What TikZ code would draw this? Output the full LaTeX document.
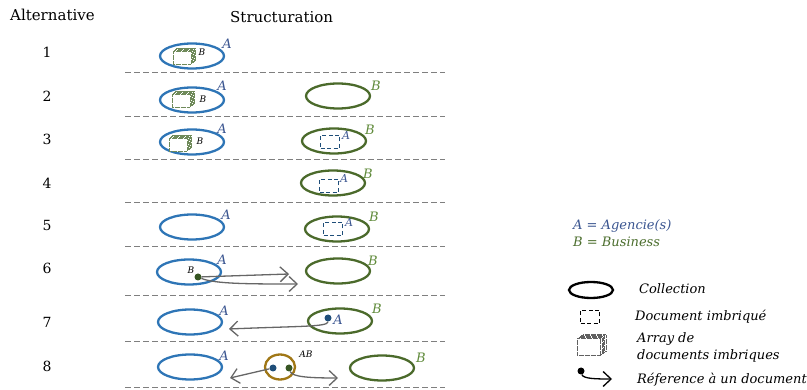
\documentclass[tikz,border=0pt]{standalone}
\usepackage{fontspec}
\setmainfont{DejaVu Serif}
\usetikzlibrary{shapes.geometric,arrows.meta}
\definecolor{cblue}{HTML}{2E75B6}
\definecolor{cgreen}{HTML}{4B6A2B}
\definecolor{lblue}{HTML}{3A5590}
\definecolor{lgreen}{HTML}{5F8A3A}
\definecolor{cgold}{HTML}{A07716}
\definecolor{cgray}{HTML}{666666}
\definecolor{dgreen}{HTML}{375623}
\definecolor{cnavy}{HTML}{1F4E79}
\definecolor{sepgray}{HTML}{7F7F7F}
\definecolor{icongreen}{HTML}{6F8A5A}
\definecolor{icongray}{HTML}{606060}
\begin{document}
\begin{tikzpicture}[x=1pt,y=-1pt,
 coll/.style={draw, ellipse, line width=2.3pt, minimum width=64pt, minimum height=25pt, inner sep=0pt},
 bcoll/.style={coll, draw=cblue},
 gcoll/.style={coll, draw=cgreen},
 lab/.style={font=\fontsize{13}{13}\selectfont\itshape, inner sep=0pt},
 alab/.style={lab, text=lblue},
 blab/.style={lab, text=lgreen},
 slab/.style={font=\fontsize{9}{9}\selectfont\itshape, inner sep=0pt},
 mlab/.style={font=\fontsize{11}{11}\selectfont\itshape, inner sep=0pt, text=lblue},
 sep/.style={draw=sepgray, dash pattern=on 6pt off 3pt, line width=1pt},
 nested/.style={draw=#1, dash pattern=on 4pt off 2.5pt, line width=1.3pt, minimum width=19pt, minimum height=13pt, inner sep=0pt},
 ref/.style={draw=cgray, line width=1.3pt, -{Straight Barb[length=8pt,width=15pt,line width=1.3pt]}},
 dot/.style={circle, fill=#1, inner sep=0pt, minimum size=7pt},
 num/.style={font=\fontsize{14}{14}\selectfont},
 head/.style={font=\fontsize{15}{15}\selectfont},
 leg/.style={font=\fontsize{13}{17}\selectfont\itshape, anchor=west, inner sep=0pt},
 arrg/.pic={
   \foreach \d in {4,3,2,1,0} {
     \draw[draw=icongreen, dash pattern=on 0.6pt off 0.6pt, line width=0.9pt, fill=white] (-12+\d,-5-\d*0.7) rectangle (6+\d,8-\d*0.7);
   }
 },
 arrk/.pic={
   \foreach \d in {4,3,2,1,0} {
     \draw[draw=icongray, dash pattern=on 0.6pt off 0.6pt, line width=0.9pt, fill=white] (-12+\d,-5-\d*0.7) rectangle (6+\d,8-\d*0.7);
   }
 },
 ]
\useasboundingbox (0,0) rectangle (807,390);

% headers
\node[head, anchor=west, inner sep=0pt] (halt) at (10,15) {Alternative};
\node[head, anchor=west, inner sep=0pt] (hstr) at (230,17) {Structuration};

% numbers
\foreach \n/\y in {1/52,2/96,3/139,4/183,5/225,6/268,7/322,8/366} {
  \node[num] (n\n) at (47,\y) {\n};
}

% separators
\foreach \y in {73,117,160,203,247,296,342,388} {
  \draw[sep] (125,\y) -- (445,\y);
}

% row 1
\node[bcoll] (e1a) at (192,56) {};
\pic at (185,56) {arrg};
\node[slab] (b1) at (202,52) {B};
\node[alab] (a1) at (227,44) {A};

% row 2
\node[bcoll] (e2a) at (192,100) {};
\pic at (184,99) {arrg};
\node[slab] (b2) at (203,99) {B};
\node[alab] (a2) at (222,86) {A};
\node[gcoll] (e2b) at (338,96) {};
\node[blab] (bb2) at (376,86) {B};

% row 3
\node[bcoll] (e3a) at (192,142) {};
\pic at (181,143) {arrg};
\node[slab] (b3) at (200,141) {B};
\node[alab] (a3) at (222,129) {A};
\node[gcoll] (e3b) at (334,141) {};
\node[nested=cnavy] (r3) at (330,142) {};
\node[mlab] (ra3) at (346,135) {A};
\node[blab] (bb3) at (370,130) {B};

% row 4
\node[gcoll] (e4b) at (333,183) {};
\node[nested=cnavy] (r4) at (329,186) {};
\node[mlab] (ra4) at (344,178) {A};
\node[blab] (bb4) at (368,174) {B};

% row 5
\node[bcoll] (e5a) at (192,227) {};
\node[alab] (a5) at (226,215) {A};
\node[gcoll] (e5b) at (337,229) {};
\node[nested=cnavy] (r5) at (333,229) {};
\node[mlab] (ra5) at (349,222) {A};
\node[blab] (bb5) at (374,217) {B};

% row 6
\node[bcoll] (e6a) at (189,272) {};
\node[slab] (b6) at (191,270) {B};
\node[alab] (a6) at (222,260) {A};
\node[dot=dgreen] (d6) at (198,277) {};
\node[gcoll] (e6b) at (338,271) {};
\node[blab] (bb6) at (373,261) {B};
\coordinate (t6a) at (289,274);
\coordinate (t6b) at (298,284);
\draw[ref] (d6) -- (t6a);
\draw[ref] (d6) .. controls (215,284) and (250,284) .. (t6b);

% row 7
\node[bcoll] (e7a) at (190,322) {};
\node[alab] (a7) at (224,311) {A};
\node[gcoll] (e7b) at (340,321) {};
\node[blab] (bb7) at (377,309) {B};
\node[dot=cnavy] (d7) at (328,318) {};
\node[alab] (da7) at (338,320) {A};
\coordinate (t7) at (229,329);
\draw[ref] (d7) .. controls (328,327) and (300,326) .. (t7);

% row 8
\node[bcoll] (e8a) at (190,367) {};
\node[alab] (a8) at (224,356) {A};
\node[coll, draw=cgold, minimum width=30pt, minimum height=25pt] (e8m) at (280,367) {};
\node[slab] (ab8) at (306,354) {AB};
\node[dot=cnavy] (d8a) at (273,368) {};
\node[dot=dgreen] (d8b) at (289,368) {};
\node[gcoll] (e8b) at (382,368) {};
\node[blab] (bb8) at (421,358) {B};
\coordinate (t8a) at (230,378);
\coordinate (t8b) at (338,378);
\draw[ref] (d8a) -- (t8a);
\draw[ref] (d8b) .. controls (292,377) and (310,378) .. (t8b);

% legend
\node[leg, text=lblue] (lga) at (573,226) {A \textup{=} Agencie(s)};
\node[leg, text=lgreen!80!black] (lgb) at (573,242) {B \textup{=} Business};
\node[coll, draw=black, minimum width=44pt, minimum height=16pt] (le) at (591,290) {};
\node[leg] (lec) at (639,289) {Collection};
\node[nested=black] (lr) at (590,317) {};
\node[leg] (lrt) at (635,317) {Document imbriqué};
\pic[scale=1.3] at (593,345) {arrk};
\node[leg, align=left] (lat) at (637,347) {Array de\\documents imbriques};
\node[dot=black, minimum size=7pt] (ld) at (581,371) {};
\coordinate (lt) at (612,379);
\draw[ref, draw=black] (ld) .. controls (583,379) and (598,379) .. (lt);
\node[leg] (ldt) at (637,380) {Réference à un document};
\end{tikzpicture}
\end{document}
